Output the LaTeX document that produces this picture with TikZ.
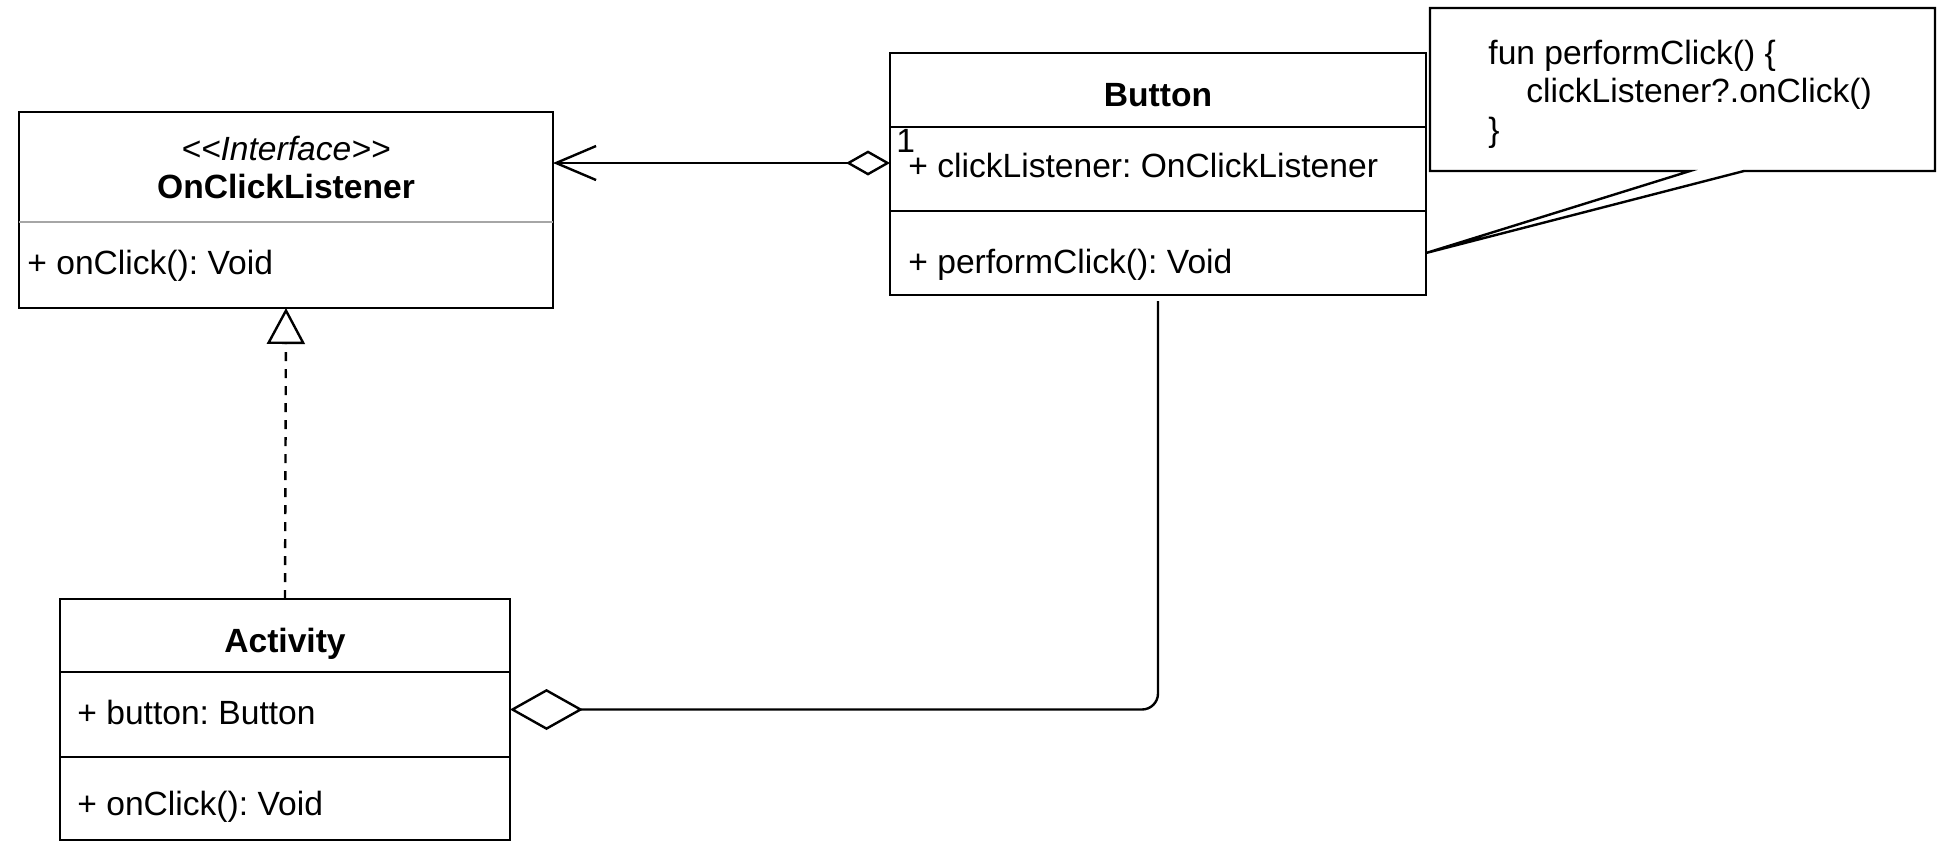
\documentclass[tikz,border=0pt]{standalone}
\usepackage{fontspec}
\setmainfont{Liberation Sans}
\usetikzlibrary{arrows.meta}
\newcommand{\px}{0.5pt}
\newcommand{\umlfont}{\fontsize{16.8pt}{20pt}\selectfont}
\frenchspacing

\begin{document}
\begin{tikzpicture}[x=\px, y=-\px,
    box/.style={draw, rectangle, anchor=north west, line width=1.2pt, inner sep=0pt, outer sep=0pt},
    part/.style={rectangle, anchor=north west, inner sep=0pt, outer sep=0pt},
    txt/.style={anchor=base west, inner sep=0pt, font=\umlfont},
    title/.style={anchor=base, inner sep=0pt, font=\umlfont\bfseries},
    link/.style={line width=1.2pt}]
    \useasboundingbox (0,0) rectangle (1950,859);

    % OnClickListener
    \node[box, minimum width=534*\px, minimum height=196*\px] (ocl) at (19,112) {};
    \node[part, minimum width=534*\px, minimum height=110*\px] (ocl-head) at (19,112) {};
    \node[part, minimum width=534*\px, minimum height=86*\px] (ocl-body) at (19,222) {};
    \draw[gray!70, line width=1pt] (ocl-head.south west) -- (ocl-head.south east);
    \node[txt, anchor=base, font=\umlfont\itshape] (ocl-stereo) at (286,160) {\textless\kern0pt\textless Interface\textgreater\kern0pt\textgreater};
    \node[title] (ocl-name) at (286,198) {OnClickListener};
    \node[txt] (ocl-method) at (27,274) {+ onClick(): Void};

    % Button
    \node[box, minimum width=536*\px, minimum height=74*\px] (btn-head) at (890,53) {};
    \node[box, minimum width=536*\px, minimum height=84*\px] (btn-attr) at (890,127) {};
    \node[box, minimum width=536*\px, minimum height=84*\px] (btn-meth) at (890,211) {};
    \node[title] (btn-name) at (1158,106) {Button};
    \node[txt] (btn-mult) at (896,152) {1};
    \node[txt] (btn-field) at (908,177) {+ clickListener: OnClickListener};
    \node[txt] (btn-method) at (908,273) {+ performClick(): Void};

    % Activity
    \node[box, minimum width=450*\px, minimum height=73*\px] (act-head) at (60,599) {};
    \node[box, minimum width=450*\px, minimum height=85*\px] (act-attr) at (60,672) {};
    \node[box, minimum width=450*\px, minimum height=83*\px] (act-meth) at (60,757) {};
    \node[title] (act-name) at (285,652) {Activity};
    \node[txt] (act-field) at (77,724) {+ button: Button};
    \node[txt] (act-method) at (77,815) {+ onClick(): Void};

    % Note
    \node[part, minimum width=505*\px, minimum height=163*\px] (note) at (1430,8) {};
    \coordinate (tail-a) at (1690,171);
    \coordinate (tail-b) at (1744,171);
    \draw[link] (note.south west) -- (note.north west) -- (note.north east) -- (note.south east)
        -- (tail-b) -- (btn-meth.east) -- (tail-a) -- cycle;
    \node[txt] (code-1) at (1488,64) {fun performClick() \{};
    \node[txt] (code-2) at (1526,102) {clickListener?.onClick()};
    \node[txt] (code-3) at (1488,141) {\}};

    % Connectors
    \draw[link, {Diamond[open, length=22pt, width=12.5pt]}-{Straight Barb[length=20pt, width=17pt]}]
        ([yshift=3pt]btn-attr.west) -- ([yshift=3pt]btn-attr.west -| ocl.east);
    \draw[link, dash pattern=on 4.5pt off 4pt, -{Triangle[open, length=18pt, width=19pt]}]
        (act-head.north) -- (ocl.south);
    \draw[link, rounded corners=8pt, -{Diamond[open, length=36.5pt, width=20.5pt]}]
        ([yshift=-3pt]btn-meth.south) |- ([yshift=2.5pt]act-attr.east);

\end{tikzpicture}
\end{document}
